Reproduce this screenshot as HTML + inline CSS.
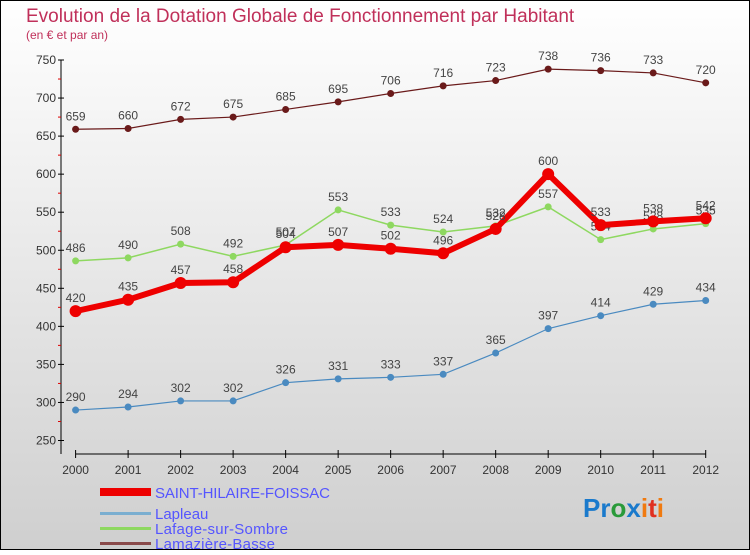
<!DOCTYPE html>
<html><head><meta charset="utf-8"><style>
body{margin:0}
svg text{font-family:"Liberation Sans",sans-serif}
</style></head><body>
<svg width="750" height="550" xmlns="http://www.w3.org/2000/svg">
<defs><linearGradient id="bg" x1="0" y1="0" x2="0" y2="1"><stop offset="0" stop-color="#ffffff"/><stop offset="1" stop-color="#cfcfcf"/></linearGradient></defs>
<rect x="0.5" y="0.5" width="749" height="549" fill="url(#bg)" stroke="#000"/>
<text x="26" y="22" font-size="19" fill="#c0305a">Evolution de la Dotation Globale de Fonctionnement par Habitant</text>
<text x="26" y="39" font-size="12" fill="#c0305a">(en € et par an)</text>
<g id="axes"></g><g id="series"></g>
<g>
<rect x="100" y="488" width="51" height="8" fill="#e00"/>
<text x="155" y="498" font-size="15" fill="#5555ff" textLength="175">SAINT-HILAIRE-FOISSAC</text>
<rect x="100" y="512" width="51" height="3" fill="#7aaed0"/>
<text x="155" y="519" font-size="15" fill="#5555ff">Lapleau</text>
<rect x="100" y="527" width="51" height="3" fill="#8ed860"/>
<text x="155" y="534" font-size="15" fill="#5555ff" textLength="133">Lafage-sur-Sombre</text>
<rect x="100" y="542" width="51" height="3" fill="#8a4a4a"/>
<text x="155" y="549" font-size="15" fill="#5555ff" textLength="120">Lamazière-Basse</text>
</g>
<text x="583" y="517" font-size="26" font-weight="bold"><tspan fill="#1a7acc">Pr</tspan><tspan fill="#2a9a3a">o</tspan><tspan fill="#1a7acc">x</tspan><tspan fill="#f07a10">i</tspan><tspan fill="#e03020">t</tspan><tspan fill="#f07a10">i</tspan></text>
</svg>
<script>
const years=[2000,2001,2002,2003,2004,2005,2006,2007,2008,2009,2010,2011,2012];
const yTicks=[250,300,350,400,450,500,550,600,650,700,750];
const saintHilaire=[420,435,457,458,504,507,502,496,528,600,533,538,542];
const lapleau=[290,294,302,302,326,331,333,337,365,397,414,429,434];
const lafage=[486,490,508,492,507,553,533,524,532,557,514,528,535];
const lamaziere=[659,660,672,675,685,695,706,716,723,738,736,733,720];
const NS="http://www.w3.org/2000/svg";
const xs=i=>75.6+i*(705.7-75.6)/12;
const ys=v=>60+(750-v)*0.761;
function mk(t,a,p){const e=document.createElementNS(NS,t);for(const k in a)e.setAttribute(k,a[k]);p.appendChild(e);return e;}
const ax=document.getElementById('axes');
const yl=mk('line',{x1:61,y1:60,x2:61,y2:454,stroke:'#000'},ax);


yTicks.forEach(v=>{
 mk('line',{x1:58,y1:ys(v),x2:64,y2:ys(v),stroke:'#000'},ax);
 if(v<750) mk('line',{x1:58,y1:ys(v+25),x2:61,y2:ys(v+25),stroke:'#d00'},ax);
 const t=mk('text',{x:56,y:ys(v)+4,'font-size':12,fill:'#333','text-anchor':'end'},ax);t.textContent=v;
 
 
});
const xl=mk('line',{x1:75.6,y1:454,x2:705.7,y2:454,stroke:'#000'},ax);


years.forEach((y,i)=>{
 mk('line',{x1:xs(i),y1:450,x2:xs(i),y2:458,stroke:'#000'},ax);
 const t=mk('text',{x:xs(i),y:474,'font-size':12,fill:'#333','text-anchor':'middle'},ax);t.textContent=y;
 
 
});
const sg=document.getElementById('series');
function series(data,color,w,r,name){
 const g=mk('g',{},sg);
 
 
 mk('polyline',{points:data.map((v,i)=>xs(i)+','+ys(v)).join(' '),fill:'none',stroke:color,'stroke-width':w},g);
 data.forEach((v,i)=>{
  const c=mk('circle',{cx:xs(i),cy:ys(v),r:r,fill:color},g);
  
  
  const t=mk('text',{x:xs(i),y:ys(v)-9,'font-size':12,fill:'#444','text-anchor':'middle'},g);t.textContent=v;
  
  
 });
}
series(lamaziere,'#6a1a1a',1.2,3.5,'lamaziere-series');
series(lapleau,'#4a8ac0',1.2,3.5,'lapleau-series');
series(lafage,'#8ed860',1.5,3.5,'lafage-series');
series(saintHilaire,'#ee0000',6,6,'saint-hilaire-series');
</script>
</body></html>
